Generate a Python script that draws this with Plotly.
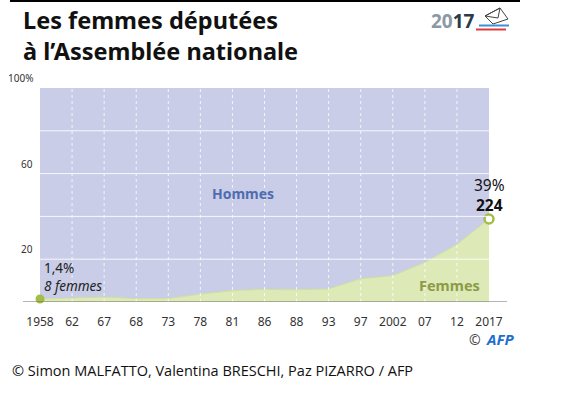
import plotly.graph_objects as go

# ---- data ----
years = ["1958", "62", "67", "68", "73", "78", "81", "86", "88", "93", "97", "2002", "07", "12", "2017"]
femmes_pct = [1.4, 1.7, 2.3, 1.6, 1.6, 3.7, 5.3, 5.9, 5.7, 6.1, 10.9, 12.3, 18.5, 26.9, 38.8]
total_pct = [100] * len(years)
y_labels = [(100, "100%"), (60, "60"), (20, "20")]
y_grid = [20, 40, 60, 80, 100]

W, H = 587, 393
L, R, T, B = 40, 489, 88, 302

def px(x):
    return (x - L) / (R - L)

def py(y):
    return (B - y) / (B - T)

idx = list(range(len(years)))

BLUE = "#c9cde7"
GREEN = "#dde9b7"
GREEN_D = "#a3bd45"

fig = go.Figure()
fig.add_trace(go.Scatter(x=idx, y=femmes_pct, mode="lines", line=dict(color="#cfe09a", width=1),
                         fill="tozeroy", fillcolor=GREEN, hoverinfo="skip", showlegend=False))
fig.add_trace(go.Scatter(x=idx, y=total_pct, mode="lines", line=dict(color=BLUE, width=0),
                         fill="tonexty", fillcolor=BLUE, hoverinfo="skip", showlegend=False))
fig.add_trace(go.Scatter(x=[idx[0]], y=[femmes_pct[0]], mode="markers", cliponaxis=False,
                         marker=dict(size=9, color=GREEN_D), showlegend=False, hoverinfo="skip"))
fig.add_trace(go.Scatter(x=[idx[-1]], y=[femmes_pct[-1]], mode="markers", cliponaxis=False,
                         marker=dict(size=9, color="white", line=dict(color=GREEN_D, width=2.5)),
                         showlegend=False, hoverinfo="skip"))

shapes = []
for g in y_grid[:-1]:
    shapes.append(dict(type="line", xref="x", yref="y", x0=idx[0], x1=idx[-1], y0=g, y1=g,
                       line=dict(color="rgba(255,255,255,0.85)", width=1), layer="above"))
for i in idx[1:-1]:
    shapes.append(dict(type="line", xref="x", yref="y", x0=i, x1=i, y0=0, y1=100,
                       line=dict(color="rgba(255,255,255,0.8)", width=1, dash="dot"), layer="above"))
shapes.append(dict(type="line", xref="paper", yref="y", x0=px(23), x1=px(507), y0=0, y1=0,
                   line=dict(color="#6d6d6d", width=1.2), layer="above"))
shapes.append(dict(type="line", xref="paper", yref="paper", x0=px(10), x1=px(520), y0=py(1), y1=py(1),
                   line=dict(color="black", width=2)))
shapes.append(dict(type="line", xref="paper", yref="paper", x0=px(479), x1=px(509), y0=py(25.5), y1=py(25.5),
                   line=dict(color="#3d8fd9", width=2)))
shapes.append(dict(type="line", xref="paper", yref="paper", x0=px(476), x1=px(506), y0=py(29.5), y1=py(29.5),
                   line=dict(color="#e03a3a", width=2)))

def pth(points):
    return "M " + " L ".join(f"{px(a)},{py(b)}" for a, b in points) + " Z"

shapes.append(dict(type="path", xref="paper", yref="paper",
                   path=pth([(485, 16), (500, 8), (508, 19), (493, 24)]),
                   line=dict(color="#444", width=1)))
shapes.append(dict(type="path", xref="paper", yref="paper",
                   path=pth([(485, 16), (498, 18), (500, 8)]),
                   line=dict(color="#444", width=1)))

ann = []
for v, t in y_labels:
    ann.append(dict(x=px(35), y=v, xref="paper", yref="y", text=t, showarrow=False,
                    xanchor="right", yanchor="bottom", yshift=1,
                    font=dict(family="Noto Sans", size=10, color="#333")))
ann += [
    dict(x=px(21), y=py(36), xref="paper", yref="paper", xanchor="left", yanchor="middle", showarrow=False,
         align="left", text="<b>Les femmes députées<br>à l’Assemblée nationale</b>",
         font=dict(family="Noto Sans", size=23.5, color="#111")),
    dict(x=px(477), y=py(21), xref="paper", yref="paper", xanchor="right", yanchor="middle", showarrow=False,
         text="<b><span style='color:#8c98a5'>20</span><span style='color:#2b3a4a'>17</span></b>",
         font=dict(family="Noto Sans", size=19)),
    dict(x=px(243), y=py(193), xref="paper", yref="paper", xanchor="center", yanchor="middle",
         showarrow=False, text="<b>Hommes</b>",
         font=dict(family="Noto Sans", size=14, color="#4f6cb0")),
    dict(x=px(449), y=py(285), xref="paper", yref="paper", xanchor="center", yanchor="middle",
         showarrow=False, text="<b>Femmes</b>",
         font=dict(family="Noto Sans", size=14.5, color="#8c9b45")),
    dict(x=px(42), y=py(277), xref="paper", yref="paper", xanchor="left", yanchor="middle", showarrow=False,
         align="left", text="1,4%<br><i>8 femmes</i>", font=dict(family="Noto Sans", size=13.5, color="#222")),
    dict(x=idx[-1], y=py(195), xref="x", yref="paper", xanchor="center", yanchor="middle", showarrow=False,
         text="39%<br><b>224</b>",
         font=dict(family="Noto Sans", size=15.5, color="#111")),
    dict(x=px(483), y=py(339), xref="paper", yref="paper", xanchor="right", yanchor="middle", showarrow=False,
         text="©", font=dict(family="Noto Sans", size=14, color="#444")),
    dict(x=px(484), y=py(339), xref="paper", yref="paper", xanchor="left", yanchor="middle", showarrow=False,
         text="<b><i>AFP</i></b>", font=dict(family="Noto Sans", size=15, color="#1c6fd1")),
    dict(x=px(10), y=py(370), xref="paper", yref="paper", xanchor="left", yanchor="middle", showarrow=False,
         text="© Simon MALFATTO, Valentina BRESCHI, Paz PIZARRO / AFP",
         font=dict(family="Open Sans", size=14.5, color="#111")),
]

fig.update_layout(
    width=W, height=H,
    margin=dict(l=L, r=W - R, t=T, b=H - B, pad=0),
    paper_bgcolor="white", plot_bgcolor="white",
    shapes=shapes, annotations=ann, hovermode=False,
    xaxis=dict(range=[idx[0], idx[-1]], tickmode="array", tickvals=idx, ticktext=years,
               showgrid=False, zeroline=False, showline=False, ticks="outside", ticklen=9,
               tickcolor="rgba(0,0,0,0)", tickfont=dict(family="Noto Sans", size=12, color="#333")),
    yaxis=dict(range=[0, 100], showgrid=False, zeroline=False, showticklabels=False, showline=False),
)

fig.write_html("out.html", config={"displayModeBar": False},
               post_script="document.body.style.margin='0';")
